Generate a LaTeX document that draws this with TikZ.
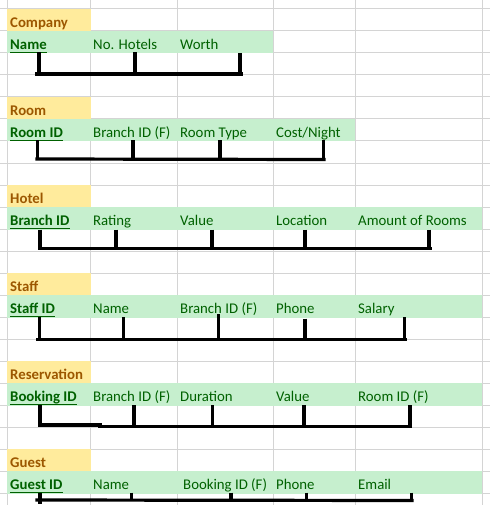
\documentclass[tikz,border=0pt]{standalone}
\usepackage{fontspec}
\setmainfont{Carlito}

\definecolor{gridgray}{HTML}{D4D4D4}
\definecolor{neutralfill}{HTML}{FFEB9C}
\definecolor{neutraltext}{HTML}{9C5700}
\definecolor{goodfill}{HTML}{C6EFCE}
\definecolor{goodtext}{HTML}{006100}

\tikzset{
  cellfont/.style={font=\fontsize{14.8}{17}\selectfont},
  tabletitle/.style={cellfont, anchor=base west, inner sep=0pt, yshift=-1.5pt, text=neutraltext, font=\fontsize{14.8}{17}\selectfont\bfseries},
  attr/.style={cellfont, anchor=base west, inner sep=0pt, yshift=-1.5pt, text=goodtext},
  pk/.style={attr, font=\fontsize{14.8}{17}\selectfont\bfseries},
  keyline/.style={goodtext, line width=1pt},
  bracket/.style={black, line width=3.2pt, line cap=rect},
  tick/.style={black, line width=3.2pt, line cap=butt},
  gridline/.style={gridgray, line width=1pt},
}

% underline a primary key node
\newcommand{\keyunder}[1]{\draw[keyline] ([yshift=-3pt]#1.base west) -- ([yshift=-3pt]#1.base east);}

\begin{document}
\begin{tikzpicture}[x=1pt, y=-1pt]
\useasboundingbox (0,0) rectangle (490,505);
\fill[white] (0,0) rectangle (490,505);

% sheet grid
\foreach \r in {0,...,22} \draw[gridline] (0,{9+22*\r}) -- (490,{9+22*\r});
\foreach \c in {7,90,177,273,355,482} \draw[gridline] (\c,0) -- (\c,505);

% cell fills: title cell and attribute row of each table
\foreach \t/\w in {9/273, 97/355, 185/482, 273/482, 361/482, 449/482} {
  \fill[neutralfill] (6.5,\t) rectangle (90.5,{\t+22});
  \fill[goodfill] (6.5,{\t+22}) rectangle (\w,{\t+44.5});
}

% Company
\node[tabletitle] (company) at (10,26) {Company};
\node[pk] (companyname) at (10,48) {Name\ };
\node[attr] (companyhotels) at (93,48) {No. Hotels};
\node[attr] (companyworth) at (180,48) {Worth};
\keyunder{companyname}

% Room
\node[tabletitle] (room) at (10,114) {Room};
\node[pk] (roomid) at (10,136) {Room ID\ };
\node[attr] (roombranch) at (93,136) {Branch ID (F)};
\node[attr] (roomtype) at (180,136) {Room Type};
\node[attr] (roomcost) at (276,136) {Cost/Night};
\keyunder{roomid}

% Hotel
\node[tabletitle] (hotel) at (10,202) {Hotel};
\node[pk] (hotelid) at (10,224) {Branch ID\ };
\node[attr] (hotelrating) at (93,224) {Rating};
\node[attr] (hotelvalue) at (180,224) {Value};
\node[attr] (hotellocation) at (276,224) {Location};
\node[attr] (hotelrooms) at (358,224) {Amount of Rooms};
\keyunder{hotelid}

% Staff
\node[tabletitle] (staff) at (10,290) {Staff};
\node[pk] (staffid) at (10,312) {Staff ID\ };
\node[attr] (staffname) at (93,312) {Name};
\node[attr] (staffbranch) at (180,312) {Branch ID (F)};
\node[attr] (staffphone) at (276,312) {Phone};
\node[attr] (staffsalary) at (358,312) {Salary};
\keyunder{staffid}

% Reservation
\node[tabletitle] (reservation) at (10,378) {Reservation};
\node[pk] (bookingid) at (10,400) {Booking ID\ };
\node[attr] (resbranch) at (93,400) {Branch ID (F)};
\node[attr] (resduration) at (180,400) {Duration};
\node[attr] (resvalue) at (276,400) {Value};
\node[attr] (resroom) at (358,400) {Room ID (F)};
\keyunder{bookingid}

% Guest
\node[tabletitle] (guest) at (10,466) {Guest};
\node[pk] (guestid) at (10,488) {Guest ID\ };
\node[attr] (guestname) at (93,488) {Name};
\node[attr] (guestbooking) at (183,488) {Booking ID (F)};
\node[attr] (guestphone) at (276,488) {Phone};
\node[attr] (guestemail) at (358,488) {Email};
\keyunder{guestid}

% hand-drawn brackets under each attribute row
\draw[bracket] (37,74) -- (241,74);
\foreach \x/\y in {39/52.5, 135/52.5, 240/53.5} \draw[tick] (\x,\y) -- (\x,75);

\draw[bracket] (37,159) -- (324,159.5);
\foreach \x in {37.5, 133, 220, 323.5} \draw[tick] (\x,140.5) -- (\x,160);

\draw[bracket] (40,248.5) -- (430,248.5);
\foreach \x in {40, 116, 212, 305, 429} \draw[tick] (\x,229.5) -- (\x,249.5);

\draw[bracket] (38,339.5) -- (405,339.5);
\foreach \x/\y in {39.5/317, 123.5/317, 218.5/314, 305/318.5, 404.5/317} \draw[tick] (\x,\y) -- (\x,340.5);

\draw[tick] (40,405) -- (40,426);
\draw[bracket] (40,425) -- (100,425);
\draw[bracket] (100,426.5) -- (410.5,426.5);
\foreach \x in {134, 212.7, 304, 410} \draw[tick] (\x,405) -- (\x,427.5);

\draw[bracket] (37,500) -- (412,500.5);
\draw[tick] (40,492.5) -- (40,504);
\foreach \x in {131.7, 231, 306.7, 411.7} \draw[tick] (\x,492.5) -- (\x,501);
\end{tikzpicture}
\end{document}
